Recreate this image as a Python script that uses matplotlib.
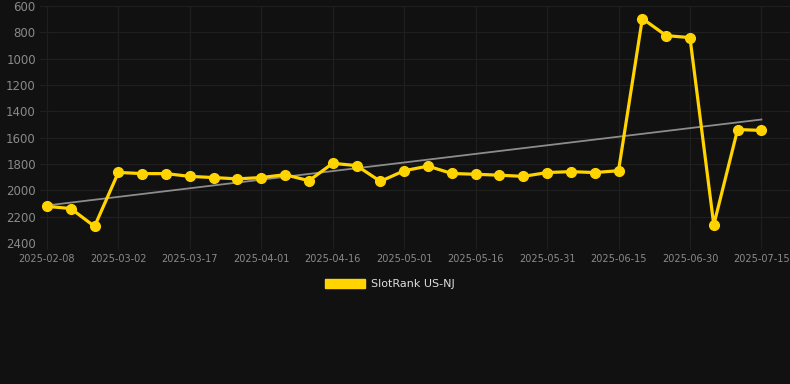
import numpy as np
import matplotlib
matplotlib.use("Agg")
import matplotlib.pyplot as plt
from matplotlib.patches import Patch

# snapshot dates, labels shown every third point
dates = ["2025-02-08", "2025-02-15", "2025-02-23", "2025-03-02", "2025-03-07",
         "2025-03-12", "2025-03-17", "2025-03-22", "2025-03-27", "2025-04-01",
         "2025-04-06", "2025-04-11", "2025-04-16", "2025-04-21", "2025-04-26",
         "2025-05-01", "2025-05-06", "2025-05-11", "2025-05-16", "2025-05-21",
         "2025-05-26", "2025-05-31", "2025-06-05", "2025-06-10", "2025-06-15",
         "2025-06-20", "2025-06-25", "2025-06-30", "2025-07-05", "2025-07-10",
         "2025-07-15"]
rank = [2122, 2138, 2274, 1864, 1873, 1873, 1894, 1903, 1913, 1903,
        1881, 1927, 1795, 1812, 1932, 1851, 1816, 1872, 1878, 1885,
        1894, 1865, 1858, 1865, 1851, 695, 825, 840, 2262, 1538,
        1545]
series_name = "SlotRank US-NJ"
y_ticks = [600, 800, 1000, 1200, 1400, 1600, 1800, 2000, 2200, 2400]

bg = "#111111"
gold = "#FFD400"
grid_c = "#1f1f1f"
tick_c = "#8a8a8a"

fig = plt.figure(figsize=(7.9, 3.84), dpi=100, facecolor=bg)
ax = fig.add_axes([40 / 790, 1 - 243 / 384, 750 / 790, 237 / 384])
ax.set_facecolor(bg)

x = np.arange(len(rank))
# linear trend of the series
k, b = np.polyfit(x, rank, 1)
ax.plot(x, k * x + b, color="#8c8c8c", lw=1.3, zorder=2)

ax.plot(x, rank, color=gold, lw=2.3, marker="o", markersize=7,
        markerfacecolor=gold, markeredgecolor=gold, zorder=3)

ax.set_ylim(2400, 600)
ax.set_yticks(y_ticks)
ax.set_xlim(-0.29, len(rank) - 1 + 1.2)
ax.set_xticks(x[::3])
ax.set_xticklabels(dates[::3])

ax.grid(True, color=grid_c, lw=0.9)
ax.set_axisbelow(True)
for s in ax.spines.values():
    s.set_visible(False)
ax.tick_params(axis="y", colors=tick_c, labelsize=8.5, length=0, pad=3)
ax.tick_params(axis="x", colors=tick_c, labelsize=7, length=4, pad=4, color=grid_c)

fig.legend(handles=[Patch(facecolor=gold, edgecolor=gold)], labels=[series_name],
           loc="center", bbox_to_anchor=(390 / 790, 1 - 284 / 384), frameon=False,
           handlelength=3.6, handleheight=0.9, handletextpad=0.5,
           labelcolor="#dddddd", fontsize=8)

fig.savefig("out.png", dpi=100, facecolor=bg)
